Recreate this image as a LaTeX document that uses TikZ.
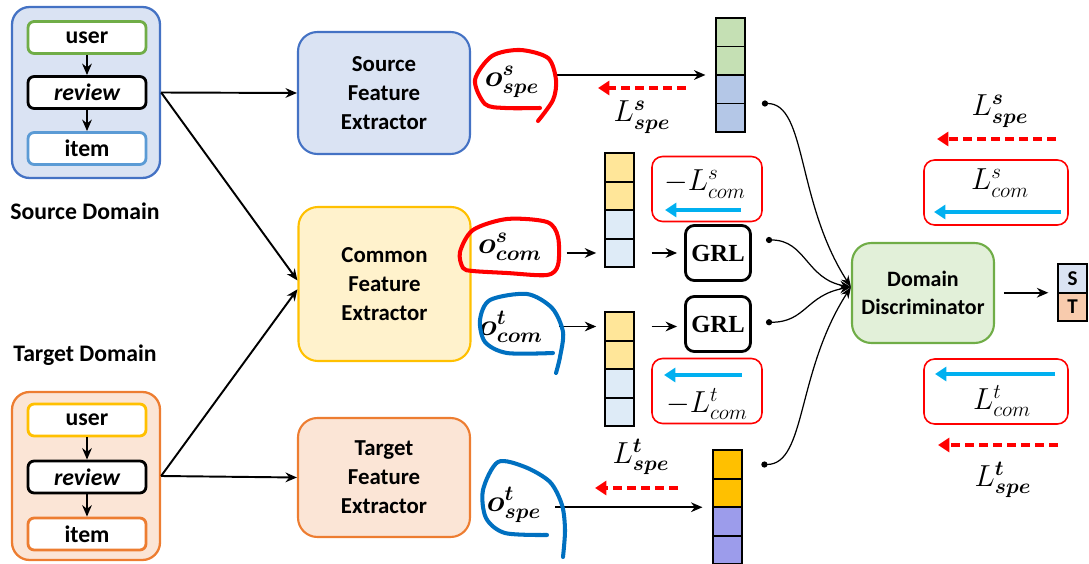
\documentclass[tikz,border=0pt]{standalone}
\usepackage{fontspec}
\setmainfont{Carlito}
\newfontfamily\grlfont{Liberation Serif}
\usepackage{bm}
\usetikzlibrary{arrows.meta,positioning,calc}

\definecolor{srcblue}{HTML}{4472C4}
\definecolor{srcfill}{HTML}{DAE3F3}
\definecolor{tgtorange}{HTML}{ED7D31}
\definecolor{tgtfill}{HTML}{FBE5D6}
\definecolor{comgold}{HTML}{FFC000}
\definecolor{comfill}{HTML}{FFF2CC}
\definecolor{discgreen}{HTML}{70AD47}
\definecolor{discfill}{HTML}{E2F0D9}
\definecolor{itemblue}{HTML}{5B9BD5}
\definecolor{lossred}{HTML}{FF0000}
\definecolor{gradblue}{HTML}{00B0F0}
\definecolor{penblue}{HTML}{0070C0}
\definecolor{cellgreen}{HTML}{C5E0B4}
\definecolor{cellblue}{HTML}{B4C7E7}
\definecolor{cellyellow}{HTML}{FFE699}
\definecolor{cellpale}{HTML}{DEEBF7}
\definecolor{cellpurple}{HTML}{9C9CEB}
\definecolor{cellpeach}{HTML}{F8CBAD}

\begin{document}
\begin{tikzpicture}[x=0.02cm,y=-0.02cm,
    lbl/.style={font=\fontsize{13.5}{16}\selectfont\bfseries},
    domainbox/.style={draw, rounded corners=10pt, line width=1.3pt, minimum width=2.96cm},
    slotbox/.style={draw, fill=white, rounded corners=3.5pt, line width=1.6pt, minimum width=2.36cm, minimum height=0.64cm, inner sep=0pt, font=\fontsize{13.5}{16}\selectfont\bfseries},
    extractor/.style={draw, rounded corners=11pt, line width=1.2pt, minimum width=3.44cm, align=center, font=\fontsize{13}{16.5}\selectfont\bfseries},
    cell/.style={draw, line width=0.9pt, minimum width=0.58cm, minimum height=0.57cm, inner sep=0pt, outer sep=0pt},
    grlbox/.style={draw, rounded corners=5pt, line width=1.6pt, minimum width=1.2cm, minimum height=1.1cm, font=\grlfont\fontsize{14}{16}\selectfont\bfseries},
    lossbox/.style={draw=lossred, rounded corners=6pt, line width=0.9pt, minimum height=1.3cm},
    mathlbl/.style={font=\fontsize{17.28}{20}\selectfont, inner sep=1pt},
    arr/.style={-{Stealth[length=6.5pt,width=5.5pt]}, line width=1.1pt},
    redarr/.style={-{Triangle[length=6.5pt,width=8pt]}, draw=lossred, line width=2.2pt, dash pattern=on 5pt off 3pt},
    bluearr/.style={-{Triangle[length=6.5pt,width=8pt]}, draw=gradblue, line width=2pt},
    feed/.style={{Circle[length=3.5pt]}-{Stealth[length=6.5pt]}, line width=0.7pt},
    scribble/.style={line width=2.3pt, line cap=round, line join=round}
  ]
  \useasboundingbox (0,0) rectangle (1089,564);

  % source domain
  \node[domainbox, draw=srcblue, fill=srcfill, minimum height=3.42cm] (sdom) at (86,92.5) {};
  \node[slotbox, draw=discgreen] (suser) at (87,37.5) {user};
  \node[slotbox, draw=black, font=\fontsize{13.5}{16}\selectfont\bfseries\itshape] (sreview) at (87,92.5) {review};
  \node[slotbox, draw=itemblue] (sitem) at (87,148.5) {item};
  \draw[arr] (suser) -- (sreview);
  \draw[arr] (sreview) -- (sitem);
  \node[lbl] (sdomlbl) at (85,211) {Source Domain};

  % target domain
  \node[lbl] (tdomlbl) at (85,355) {Target Domain};
  \node[domainbox, draw=tgtorange, fill=tgtfill, minimum height=3.36cm] (tdom) at (86,476) {};
  \node[slotbox, draw=comgold] (tuser) at (87,420) {user};
  \node[slotbox, draw=black, font=\fontsize{13.5}{16}\selectfont\bfseries\itshape] (treview) at (87,477) {review};
  \node[slotbox, draw=tgtorange] (titem) at (87,534) {item};
  \draw[arr] (tuser) -- (treview);
  \draw[arr] (treview) -- (titem);

  % extractors
  \node[extractor, draw=srcblue, fill=srcfill, minimum height=2.44cm] (sfe) at (384,93) {Source\\Feature\\Extractor};
  \node[extractor, draw=comgold, fill=comfill, minimum height=3.08cm] (cfe) at (384.5,284) {Common\\Feature\\Extractor};
  \node[extractor, draw=tgtorange, fill=tgtfill, minimum height=2.38cm] (tfe) at (384,477.5) {Target\\Feature\\Extractor};
  \draw[arr] (sdom.east) -- (sfe.west);
  \draw[arr] (sdom.east) -- ([yshift=2pt]cfe.west);
  \draw[arr] (tdom.east) -- (tfe.west);
  \draw[arr] (tdom.east) -- ([yshift=-3pt]cfe.west);

  % features
  \node[mathlbl] (osspe) at (512,82) {$\bm{o^{s}_{spe}}$};
  \node[mathlbl] (oscom) at (510,247) {$\bm{o^{s}_{com}}$};
  \node[mathlbl] (otcom) at (511,327) {$\bm{o^{t}_{com}}$};
  \node[mathlbl] (otspe) at (514,505) {$\bm{o^{t}_{spe}}$};

  \node[cell, fill=cellgreen] (ss1) at (730.5,32.25) {};
  \node[cell, fill=cellgreen, below=0pt of ss1] (ss2) {};
  \node[cell, fill=cellblue, below=0pt of ss2] (ss3) {};
  \node[cell, fill=cellblue, below=0pt of ss3] (ss4) {};

  \node[cell, fill=cellyellow] (cs1) at (619.5,167.5) {};
  \node[cell, fill=cellyellow, below=0pt of cs1] (cs2) {};
  \node[cell, fill=cellpale, below=0pt of cs2] (cs3) {};
  \node[cell, fill=cellpale, below=0pt of cs3] (cs4) {};

  \node[cell, fill=cellyellow] (ct1) at (619.5,326.5) {};
  \node[cell, fill=cellyellow, below=0pt of ct1] (ct2) {};
  \node[cell, fill=cellpale, below=0pt of ct2] (ct3) {};
  \node[cell, fill=cellpale, below=0pt of ct3] (ct4) {};

  \node[cell, fill=comgold] (ts1) at (727.5,464.5) {};
  \node[cell, fill=comgold, below=0pt of ts1] (ts2) {};
  \node[cell, fill=cellpurple, below=0pt of ts2] (ts3) {};
  \node[cell, fill=cellpurple, below=0pt of ts3] (ts4) {};

  \node[grlbox] (grla) at (718,253) {GRL};
  \node[grlbox] (grlb) at (718,324) {GRL};

  \draw[arr, shorten >=6pt] ([xshift=9pt]osspe.east |- ss2.south) -- (ss2.south west);
  \draw[arr, shorten >=5pt] ([xshift=13pt]oscom.east |- cs4) -- (cs4.west);
  \draw[arr, shorten <=10pt, shorten >=4pt] (cs4.east) -- (grla.west |- cs4);
  \draw[arr, shorten >=5pt] ([xshift=8pt]otcom.east |- ct1) -- (ct1.west);
  \draw[arr, shorten <=10pt, shorten >=4pt] (ct1.east) -- (grlb.west |- ct1);
  \draw[arr, shorten >=6pt] ([xshift=7pt]otspe.east |- ts2.south) -- (ts2.south west);

  % losses
  \node[mathlbl] (lsspe) at (642,117) {$L^{\bm{s}}_{\bm{spe}}$};
  \node[mathlbl] (ltspe) at (641,457) {$L^{\bm{t}}_{\bm{spe}}$};
  \draw[redarr] ($(lsspe)+(44,-29)$) -- ($(lsspe)+(-44,-29)$);
  \draw[redarr] ($(ltspe)+(37,31)$) -- ($(ltspe)+(-46,31)$);

  \node[lossbox, minimum width=2.2cm] (lcoms) at (707,189) {};
  \node[mathlbl] (lcomstxt) at (705,184) {$-L^{s}_{com}$};
  \draw[bluearr] ($(lcoms)+(34,21)$) -- ($(lcoms)+(-42,21)$);
  \node[lossbox, minimum width=2.2cm] (lcomt) at (707,391) {};
  \node[mathlbl] (lcomttxt) at (707,404) {$-L^{t}_{com}$};
  \draw[bluearr] ($(lcomt)+(35,-16)$) -- ($(lcomt)+(-43,-16)$);

  % discriminator
  \node[extractor, draw=discgreen, fill=discfill, minimum width=2.84cm, minimum height=2cm, font=\fontsize{12.5}{16}\selectfont\bfseries] (disc) at (923,293) {Domain\\Discriminator};
  \node[cell, fill=srcfill, font=\fontsize{12}{14}\selectfont\bfseries] (outs) at (1072.5,278.5) {S};
  \node[cell, fill=cellpeach, font=\fontsize{12}{14}\selectfont\bfseries, below=0pt of outs] (outt) {T};
  \draw[arr, shorten <=5pt, shorten >=5.5pt] (disc.east |- outs.south) -- (outs.south west);

  \draw[feed] ([xshift=9.6pt]ss3.south east) .. controls +(45,0) and +(-55,-85) .. ([yshift=3.4pt]disc.west);
  \draw[feed] ([xshift=8pt,yshift=7.4pt]grla.east) .. controls +(40,0) and +(-45,-8) .. ([yshift=3.4pt]disc.west);
  \draw[feed] ([xshift=8pt,yshift=1pt]grlb.east) .. controls +(40,0) and +(-45,8) .. ([yshift=3.4pt]disc.west);
  \draw[feed] ([xshift=11pt]ts1.east) .. controls +(45,0) and +(-55,85) .. ([yshift=3.4pt]disc.west);

  \node[mathlbl] (rlsspe) at (1000,111) {$L^{\bm{s}}_{\bm{spe}}$};
  \draw[redarr] ($(rlsspe)+(56,28)$) -- ($(rlsspe)+(-63,28)$);
  \node[lossbox, minimum width=2.88cm] (rcoms) at (996,192.5) {};
  \node[mathlbl] (rcomstxt) at (1000,183) {$L^{s}_{com}$};
  \draw[bluearr] ($(rcoms)+(65,19.5)$) -- ($(rcoms)+(-62,19.5)$);
  \node[lossbox, minimum width=2.88cm] (rcomt) at (996,391.5) {};
  \node[mathlbl] (rcomttxt) at (1002,401) {$L^{t}_{com}$};
  \draw[bluearr] ($(rcomt)+(59,-17.5)$) -- ($(rcomt)+(-61,-17.5)$);
  \node[mathlbl] (rltspe) at (1003,480) {$L^{\bm{t}}_{\bm{spe}}$};
  \draw[redarr] ($(rltspe)+(55,-35)$) -- ($(rltspe)+(-65,-35)$);

  % pen marks
  \draw[scribble, lossred] plot[smooth] coordinates {(540,108) (505,108) (485,104) (475,80) (492,56) (520,50) (548,58) (556,80) (553,100) (538,121)};
  \draw[scribble, lossred] plot[smooth cycle] coordinates {(463,268) (460,252) (473,230) (507,219) (547,222) (558,237) (558,265) (547,275) (507,273) (473,271)};
  \draw[scribble, penblue] plot[smooth] coordinates {(553,353) (507,353) (485,342) (480,320) (490,300) (527,294) (552,308) (563,332) (560,357) (556,373)};
  \draw[scribble, penblue] plot[smooth] coordinates {(547,535) (505,533) (486,518) (483,490) (498,462) (525,467) (550,482) (562,505) (565,530) (563,557)};
\end{tikzpicture}
\end{document}
